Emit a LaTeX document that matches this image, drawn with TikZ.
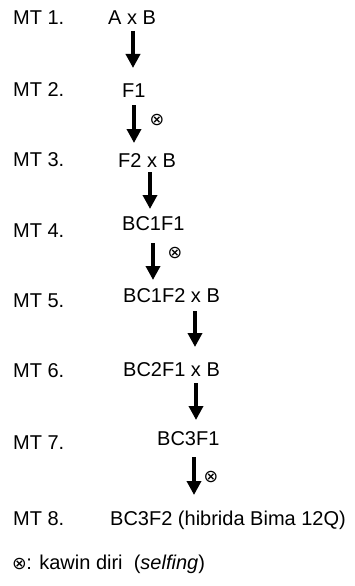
\documentclass[tikz,border=0pt]{standalone}
\usepackage{fontspec}
\setmainfont{Liberation Sans}
\newfontfamily\symfont{DejaVu Sans}
\usetikzlibrary{arrows.meta}
\begin{document}
\begin{tikzpicture}[x=1pt,y=-1pt,
  txt/.style={inner sep=0pt, anchor=base west, font=\fontsize{20}{23}\selectfont},
  sym/.style={inner sep=0pt, anchor=center, font=\symfont\fontsize{17.5}{20}\selectfont},
  arr/.style={line width=4.5pt, -{Triangle[width=14pt,length=14pt]}}]
\fill[white] (0,0) rectangle (354,586);
\useasboundingbox (0,0) rectangle (354,586);
% left labels
\node[txt] (mt1) at (13,25) {MT 1.};
\node[txt] (mt2) at (13,96) {MT 2.};
\node[txt] (mt3) at (13,166) {MT 3.};
\node[txt] (mt4) at (13,237) {MT 4.};
\node[txt] (mt5) at (13,307) {MT 5.};
\node[txt] (mt6) at (13,377) {MT 6.};
\node[txt] (mt7) at (13,449) {MT 7.};
\node[txt] (mt8) at (13,525) {MT 8.};
% generations
\node[txt] (g1) at (108,25) {A x B};
\node[txt] (g2) at (122,97) {F1};
\node[txt] (g3) at (118,167) {F2 x B};
\node[txt] (g4) at (122,230) {BC1F1};
\node[txt] (g5) at (123,302) {BC1F2 x B};
\node[txt] (g6) at (123,376) {BC2F1 x B};
\node[txt] (g7) at (157,445) {BC3F1};
\node[txt] (g8) at (110,525) {BC3F2 (hibrida Bima 12Q)};
% arrows
\coordinate (a1s) at (133,31);  \coordinate (a1e) at (133,68);
\coordinate (a2s) at (134,105); \coordinate (a2e) at (134,143);
\coordinate (a3s) at (150,172); \coordinate (a3e) at (150,209);
\coordinate (a4s) at (153,243); \coordinate (a4e) at (153,280);
\coordinate (a5s) at (195,311); \coordinate (a5e) at (195,347);
\coordinate (a6s) at (196,383); \coordinate (a6e) at (196,420);
\coordinate (a7s) at (194,457); \coordinate (a7e) at (194,495);
\draw[arr] (a1s) -- (a1e);
\draw[arr] (a2s) -- (a2e);
\draw[arr] (a3s) -- (a3e);
\draw[arr] (a4s) -- (a4e);
\draw[arr] (a5s) -- (a5e);
\draw[arr] (a6s) -- (a6e);
\draw[arr] (a7s) -- (a7e);
% selfing marks
\node[sym] (s1) at (157,120) {⊗};
\node[sym] (s2) at (175,253) {⊗};
\node[sym] (s3) at (211,477) {⊗};
% legend
\node[txt] (leg) at (12,569) {{\symfont\fontsize{17.5}{20}\selectfont ⊗}\kern-0.5pt: kawin diri\ \ (\textit{selfing})};
\end{tikzpicture}
\end{document}
